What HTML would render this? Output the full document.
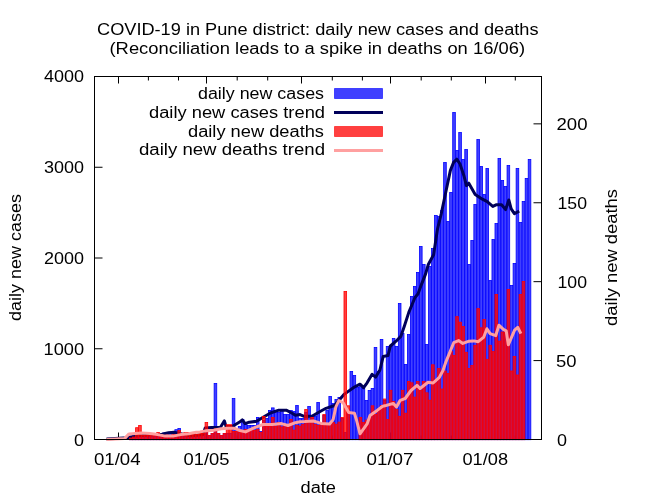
<!DOCTYPE html><html><head><meta charset="utf-8"><style>html,body{margin:0;padding:0;background:#fff;}svg{display:block;will-change:transform;}text{font-family:"Liberation Sans",sans-serif;font-size:16px;fill:#000;}</style></head><body>
<svg width="650" height="500" viewBox="0 0 650 500">
<rect x="0" y="0" width="650" height="500" fill="#fff"/>
<path d="M118.5 439.5V432.5 M118.5 76.5V83.5 M206.5 439.5V432.5 M206.5 76.5V83.5 M301.5 439.5V432.5 M301.5 76.5V83.5 M390.5 439.5V432.5 M390.5 76.5V83.5 M485.5 439.5V432.5 M485.5 76.5V83.5 M148.4 439.5V435.5 M148.4 76.5V80.5 M178.5 439.5V435.5 M178.5 76.5V80.5 M237.2 439.5V435.5 M237.2 76.5V80.5 M267.7 439.5V435.5 M267.7 76.5V80.5 M332.3 439.5V435.5 M332.3 76.5V80.5 M362.4 439.5V435.5 M362.4 76.5V80.5 M421.2 439.5V435.5 M421.2 76.5V80.5 M451.3 439.5V435.5 M451.3 76.5V80.5 M515.3 439.5V435.5 M515.3 76.5V80.5 M94.5 439.5H102.5 M94.5 348.75H102.5 M94.5 258H102.5 M94.5 167.25H102.5 M94.5 76.5H102.5 M541.5 439.5H533.5 M541.5 360.59H533.5 M541.5 281.67H533.5 M541.5 202.76H533.5 M541.5 123.85H533.5" stroke="#000" stroke-width="1" fill="none"/>
<g clip-path="url(#c)">
<defs><clipPath id="c"><rect x="94.5" y="76.5" width="447" height="366"/></clipPath></defs>
<g fill="#0000ff" fill-opacity="0.75" stroke="#0000ff" stroke-width="0.8"><rect x="129.57" y="437.5" width="2.62" height="2.2"/><rect x="132.59" y="435.5" width="2.62" height="4.2"/><rect x="135.61" y="436.5" width="2.62" height="3.2"/><rect x="138.63" y="435.5" width="2.62" height="4.2"/><rect x="141.65" y="436" width="2.62" height="3.7"/><rect x="144.67" y="434.5" width="2.62" height="5.2"/><rect x="147.69" y="435" width="2.62" height="4.7"/><rect x="150.71" y="435.5" width="2.62" height="4.2"/><rect x="153.73" y="434.5" width="2.62" height="5.2"/><rect x="156.75" y="434" width="2.62" height="5.7"/><rect x="159.77" y="434.5" width="2.62" height="5.2"/><rect x="162.79" y="433" width="2.62" height="6.7"/><rect x="165.81" y="433.5" width="2.62" height="6.2"/><rect x="168.83" y="432.5" width="2.62" height="7.2"/><rect x="171.85" y="432.5" width="2.62" height="7.2"/><rect x="174.87" y="429.7" width="2.62" height="10"/><rect x="177.89" y="428.5" width="2.62" height="11.2"/><rect x="180.91" y="433.5" width="2.62" height="6.2"/><rect x="183.93" y="434.5" width="2.62" height="5.2"/><rect x="186.95" y="435.5" width="2.62" height="4.2"/><rect x="189.97" y="434.5" width="2.62" height="5.2"/><rect x="192.99" y="435.5" width="2.62" height="4.2"/><rect x="196.01" y="436.5" width="2.62" height="3.2"/><rect x="199.03" y="435.5" width="2.62" height="4.2"/><rect x="202.05" y="434.5" width="2.62" height="5.2"/><rect x="205.07" y="431.5" width="2.62" height="8.2"/><rect x="208.09" y="435.5" width="2.62" height="4.2"/><rect x="211.11" y="433.5" width="2.62" height="6.2"/><rect x="214.13" y="383.5" width="2.62" height="56.2"/><rect x="217.15" y="433.5" width="2.62" height="6.2"/><rect x="220.17" y="435.5" width="2.62" height="4.2"/><rect x="223.19" y="433.5" width="2.62" height="6.2"/><rect x="226.21" y="433.5" width="2.62" height="6.2"/><rect x="229.23" y="433.5" width="2.62" height="6.2"/><rect x="232.25" y="398.5" width="2.62" height="41.2"/><rect x="235.27" y="430.5" width="2.62" height="9.2"/><rect x="238.29" y="426.5" width="2.62" height="13.2"/><rect x="241.31" y="419.5" width="2.62" height="20.2"/><rect x="244.33" y="424.5" width="2.62" height="15.2"/><rect x="247.35" y="425.5" width="2.62" height="14.2"/><rect x="250.37" y="425.5" width="2.62" height="14.2"/><rect x="253.39" y="425.5" width="2.62" height="14.2"/><rect x="256.41" y="417.5" width="2.62" height="22.2"/><rect x="259.43" y="431.5" width="2.62" height="8.2"/><rect x="262.45" y="420.5" width="2.62" height="19.2"/><rect x="265.47" y="418.5" width="2.62" height="21.2"/><rect x="268.49" y="410.5" width="2.62" height="29.2"/><rect x="271.51" y="407.9" width="2.62" height="31.8"/><rect x="274.53" y="410.5" width="2.62" height="29.2"/><rect x="277.55" y="412.5" width="2.62" height="27.2"/><rect x="280.57" y="410.5" width="2.62" height="29.2"/><rect x="283.59" y="414.5" width="2.62" height="25.2"/><rect x="286.61" y="414.5" width="2.62" height="25.2"/><rect x="289.63" y="410.5" width="2.62" height="29.2"/><rect x="292.65" y="411.5" width="2.62" height="28.2"/><rect x="295.67" y="405.5" width="2.62" height="34.2"/><rect x="298.69" y="418.5" width="2.62" height="21.2"/><rect x="301.71" y="418.5" width="2.62" height="21.2"/><rect x="304.73" y="412.5" width="2.62" height="27.2"/><rect x="307.75" y="406.5" width="2.62" height="33.2"/><rect x="310.77" y="418.5" width="2.62" height="21.2"/><rect x="313.79" y="416.5" width="2.62" height="23.2"/><rect x="316.81" y="402.5" width="2.62" height="37.2"/><rect x="319.83" y="424.5" width="2.62" height="15.2"/><rect x="322.85" y="415.5" width="2.62" height="24.2"/><rect x="325.87" y="410.5" width="2.62" height="29.2"/><rect x="328.89" y="396.5" width="2.62" height="43.2"/><rect x="331.91" y="403.5" width="2.62" height="36.2"/><rect x="334.93" y="399.5" width="2.62" height="40.2"/><rect x="337.95" y="397.5" width="2.62" height="42.2"/><rect x="340.97" y="418.5" width="2.62" height="21.2"/><rect x="343.99" y="432.5" width="2.62" height="7.2"/><rect x="347.01" y="412.5" width="2.62" height="27.2"/><rect x="350.03" y="371.5" width="2.62" height="68.2"/><rect x="353.05" y="375.5" width="2.62" height="64.2"/><rect x="356.07" y="387.5" width="2.62" height="52.2"/><rect x="359.09" y="385.5" width="2.62" height="54.2"/><rect x="362.11" y="388.5" width="2.62" height="51.2"/><rect x="365.13" y="400.5" width="2.62" height="39.2"/><rect x="368.15" y="390.5" width="2.62" height="49.2"/><rect x="371.17" y="388.5" width="2.62" height="51.2"/><rect x="374.19" y="347.5" width="2.62" height="92.2"/><rect x="377.21" y="371.5" width="2.62" height="68.2"/><rect x="380.23" y="339.5" width="2.62" height="100.2"/><rect x="383.25" y="400.5" width="2.62" height="39.2"/><rect x="386.27" y="346.5" width="2.62" height="93.2"/><rect x="389.29" y="345.5" width="2.62" height="94.2"/><rect x="392.31" y="338.5" width="2.62" height="101.2"/><rect x="395.33" y="346.5" width="2.62" height="93.2"/><rect x="398.35" y="303.5" width="2.62" height="136.2"/><rect x="401.37" y="333.5" width="2.62" height="106.2"/><rect x="404.39" y="364.5" width="2.62" height="75.2"/><rect x="407.41" y="334.5" width="2.62" height="105.2"/><rect x="410.43" y="296.5" width="2.62" height="143.2"/><rect x="413.45" y="286.5" width="2.62" height="153.2"/><rect x="416.47" y="272.5" width="2.62" height="167.2"/><rect x="419.49" y="246.5" width="2.62" height="193.2"/><rect x="422.51" y="264.5" width="2.62" height="175.2"/><rect x="425.53" y="344.5" width="2.62" height="95.2"/><rect x="428.55" y="266.5" width="2.62" height="173.2"/><rect x="431.57" y="248.5" width="2.62" height="191.2"/><rect x="434.59" y="215.5" width="2.62" height="224.2"/><rect x="437.61" y="216.5" width="2.62" height="223.2"/><rect x="440.63" y="210.5" width="2.62" height="229.2"/><rect x="443.65" y="162.5" width="2.62" height="277.2"/><rect x="446.67" y="221.5" width="2.62" height="218.2"/><rect x="449.69" y="192.5" width="2.62" height="247.2"/><rect x="452.71" y="112.5" width="2.62" height="327.2"/><rect x="455.73" y="150.5" width="2.62" height="289.2"/><rect x="458.75" y="132.5" width="2.62" height="307.2"/><rect x="461.77" y="159.5" width="2.62" height="280.2"/><rect x="464.79" y="149.5" width="2.62" height="290.2"/><rect x="467.81" y="264.5" width="2.62" height="175.2"/><rect x="470.83" y="240.5" width="2.62" height="199.2"/><rect x="473.85" y="204.5" width="2.62" height="235.2"/><rect x="476.87" y="139.5" width="2.62" height="300.2"/><rect x="479.89" y="166.5" width="2.62" height="273.2"/><rect x="482.91" y="194.5" width="2.62" height="245.2"/><rect x="485.93" y="168.5" width="2.62" height="271.2"/><rect x="488.95" y="280.5" width="2.62" height="159.2"/><rect x="491.97" y="239.5" width="2.62" height="200.2"/><rect x="494.99" y="223.5" width="2.62" height="216.2"/><rect x="498.01" y="158.5" width="2.62" height="281.2"/><rect x="501.03" y="180.5" width="2.62" height="259.2"/><rect x="504.05" y="186.5" width="2.62" height="253.2"/><rect x="507.07" y="165.5" width="2.62" height="274.2"/><rect x="510.09" y="285.5" width="2.62" height="154.2"/><rect x="513.11" y="263.5" width="2.62" height="176.2"/><rect x="516.13" y="168.5" width="2.62" height="271.2"/><rect x="519.15" y="222.5" width="2.62" height="217.2"/><rect x="522.17" y="201.5" width="2.62" height="238.2"/><rect x="525.19" y="178.5" width="2.62" height="261.2"/><rect x="528.21" y="159.5" width="2.62" height="280.2"/></g>
<polyline fill="none" stroke="#00005a" stroke-width="3" stroke-linejoin="round" stroke-linecap="butt" points="106.5,439 127.7,437.8 130.5,436.9 140.6,435.5 150,435 162,434.2 168.5,432.8 174,432.3 180.5,433.7 190,435.7 196.6,435.2 203.1,434.4 205.2,427.9 211.3,427.5 220.3,427.5 224.4,420.9 226.1,426.6 232.6,426.2 240,421.8 242.3,419.9 245.1,423.6 249.2,422.2 256.6,421.3 263.1,417.2 270.5,413 278.8,410.2 286.2,410.2 291.7,413 295.4,415.3 300,414.6 304.8,416.6 312.3,416 321,411 326,408.3 334.5,405.5 344.4,394.1 354.4,387 360,384.2 363.6,387.7 367.1,382.8 372.1,374.3 375.6,377.1 379.9,370 383.2,356.4 388,355.6 390.4,346 396,341.2 400.8,336.4 404.4,326 408.8,312.4 415,297.5 418.1,293.8 421.2,285.1 425.6,273.9 428.3,264.5 433.6,254.7 437.5,229 441.2,214 445.6,193 450.4,170.4 453.6,162.4 456.8,159.2 460,164 464,176 466.4,185.6 468.8,183.2 475.2,194.4 482.4,199.2 487.2,201.6 492.8,206.4 496,204.8 501.6,204.8 505.6,209.6 508.8,200 511.2,208.8 514.4,213.6 519.2,211.2"/>
<g fill="#ff0000" fill-opacity="0.75" stroke="#ff0000" stroke-width="0.8"><rect x="129.57" y="438" width="2.62" height="1.7"/><rect x="132.59" y="437" width="2.62" height="2.7"/><rect x="135.61" y="427.7" width="2.62" height="12"/><rect x="138.63" y="425.5" width="2.62" height="14.2"/><rect x="141.65" y="435.5" width="2.62" height="4.2"/><rect x="144.67" y="435" width="2.62" height="4.7"/><rect x="147.69" y="435.5" width="2.62" height="4.2"/><rect x="150.71" y="434.5" width="2.62" height="5.2"/><rect x="153.73" y="435" width="2.62" height="4.7"/><rect x="156.75" y="432.5" width="2.62" height="7.2"/><rect x="159.77" y="434.5" width="2.62" height="5.2"/><rect x="162.79" y="435.5" width="2.62" height="4.2"/><rect x="165.81" y="435" width="2.62" height="4.7"/><rect x="168.83" y="435.5" width="2.62" height="4.2"/><rect x="171.85" y="434.5" width="2.62" height="5.2"/><rect x="174.87" y="434.5" width="2.62" height="5.2"/><rect x="177.89" y="430.5" width="2.62" height="9.2"/><rect x="180.91" y="434.5" width="2.62" height="5.2"/><rect x="183.93" y="432.5" width="2.62" height="7.2"/><rect x="186.95" y="432.5" width="2.62" height="7.2"/><rect x="189.97" y="434.5" width="2.62" height="5.2"/><rect x="192.99" y="433.5" width="2.62" height="6.2"/><rect x="196.01" y="434.5" width="2.62" height="5.2"/><rect x="199.03" y="433.5" width="2.62" height="6.2"/><rect x="202.05" y="433.5" width="2.62" height="6.2"/><rect x="205.07" y="422.5" width="2.62" height="17.2"/><rect x="208.09" y="435.5" width="2.62" height="4.2"/><rect x="211.11" y="433.5" width="2.62" height="6.2"/><rect x="214.13" y="428.8" width="2.62" height="10.9"/><rect x="217.15" y="433.5" width="2.62" height="6.2"/><rect x="220.17" y="435.5" width="2.62" height="4.2"/><rect x="223.19" y="433.5" width="2.62" height="6.2"/><rect x="226.21" y="424.7" width="2.62" height="15"/><rect x="229.23" y="424.7" width="2.62" height="15"/><rect x="232.25" y="431.5" width="2.62" height="8.2"/><rect x="235.27" y="431.5" width="2.62" height="8.2"/><rect x="238.29" y="432.5" width="2.62" height="7.2"/><rect x="241.31" y="430.5" width="2.62" height="9.2"/><rect x="244.33" y="429.5" width="2.62" height="10.2"/><rect x="247.35" y="430.5" width="2.62" height="9.2"/><rect x="250.37" y="429.5" width="2.62" height="10.2"/><rect x="253.39" y="430.5" width="2.62" height="9.2"/><rect x="256.41" y="429.5" width="2.62" height="10.2"/><rect x="259.43" y="432.5" width="2.62" height="7.2"/><rect x="262.45" y="416.5" width="2.62" height="23.2"/><rect x="265.47" y="426.5" width="2.62" height="13.2"/><rect x="268.49" y="426.5" width="2.62" height="13.2"/><rect x="271.51" y="417.5" width="2.62" height="22.2"/><rect x="274.53" y="426.5" width="2.62" height="13.2"/><rect x="277.55" y="422.5" width="2.62" height="17.2"/><rect x="280.57" y="427" width="2.62" height="12.7"/><rect x="283.59" y="425.5" width="2.62" height="14.2"/><rect x="286.61" y="427.5" width="2.62" height="12.2"/><rect x="289.63" y="419.5" width="2.62" height="20.2"/><rect x="292.65" y="430.1" width="2.62" height="9.6"/><rect x="295.67" y="425.5" width="2.62" height="14.2"/><rect x="298.69" y="426.2" width="2.62" height="13.5"/><rect x="301.71" y="424.5" width="2.62" height="15.2"/><rect x="304.73" y="409.5" width="2.62" height="30.2"/><rect x="307.75" y="422.5" width="2.62" height="17.2"/><rect x="310.77" y="417.5" width="2.62" height="22.2"/><rect x="313.79" y="424.5" width="2.62" height="15.2"/><rect x="316.81" y="425.5" width="2.62" height="14.2"/><rect x="319.83" y="424.5" width="2.62" height="15.2"/><rect x="322.85" y="414.5" width="2.62" height="25.2"/><rect x="325.87" y="423.5" width="2.62" height="16.2"/><rect x="328.89" y="424.5" width="2.62" height="15.2"/><rect x="331.91" y="422.5" width="2.62" height="17.2"/><rect x="334.93" y="424.2" width="2.62" height="15.5"/><rect x="337.95" y="422.1" width="2.62" height="17.6"/><rect x="340.97" y="417.5" width="2.62" height="22.2"/><rect x="343.99" y="291.5" width="2.62" height="148.2"/><rect x="347.01" y="405.8" width="2.62" height="33.9"/><rect x="359.09" y="417.5" width="2.62" height="22.2"/><rect x="362.11" y="422.5" width="2.62" height="17.2"/><rect x="365.13" y="420.1" width="2.62" height="19.6"/><rect x="368.15" y="418.1" width="2.62" height="21.6"/><rect x="371.17" y="405.8" width="2.62" height="33.9"/><rect x="374.19" y="414.5" width="2.62" height="25.2"/><rect x="377.21" y="410.5" width="2.62" height="29.2"/><rect x="380.23" y="405.5" width="2.62" height="34.2"/><rect x="383.25" y="399" width="2.62" height="40.7"/><rect x="386.27" y="419.5" width="2.62" height="20.2"/><rect x="389.29" y="390.3" width="2.62" height="49.4"/><rect x="392.31" y="401.5" width="2.62" height="38.2"/><rect x="395.33" y="409.5" width="2.62" height="30.2"/><rect x="398.35" y="416.3" width="2.62" height="23.4"/><rect x="401.37" y="390.3" width="2.62" height="49.4"/><rect x="404.39" y="413.2" width="2.62" height="26.5"/><rect x="407.41" y="381.5" width="2.62" height="58.2"/><rect x="410.43" y="382.8" width="2.62" height="56.9"/><rect x="413.45" y="397.1" width="2.62" height="42.6"/><rect x="416.47" y="381.5" width="2.62" height="58.2"/><rect x="419.49" y="390.3" width="2.62" height="49.4"/><rect x="422.51" y="381.5" width="2.62" height="58.2"/><rect x="425.53" y="392.8" width="2.62" height="46.9"/><rect x="428.55" y="400.2" width="2.62" height="39.5"/><rect x="431.57" y="364.8" width="2.62" height="74.9"/><rect x="434.59" y="382.8" width="2.62" height="56.9"/><rect x="437.61" y="368.5" width="2.62" height="71.2"/><rect x="440.63" y="389" width="2.62" height="50.7"/><rect x="443.65" y="371" width="2.62" height="68.7"/><rect x="446.67" y="373.5" width="2.62" height="66.2"/><rect x="449.69" y="351.5" width="2.62" height="88.2"/><rect x="452.71" y="355.5" width="2.62" height="84.2"/><rect x="455.73" y="316.6" width="2.62" height="123.1"/><rect x="458.75" y="322.2" width="2.62" height="117.5"/><rect x="461.77" y="326.4" width="2.62" height="113.3"/><rect x="464.79" y="352.3" width="2.62" height="87.4"/><rect x="467.81" y="368.5" width="2.62" height="71.2"/><rect x="470.83" y="365.5" width="2.62" height="74.2"/><rect x="473.85" y="345.3" width="2.62" height="94.4"/><rect x="476.87" y="308.6" width="2.62" height="131.1"/><rect x="479.89" y="327.8" width="2.62" height="111.9"/><rect x="482.91" y="319.4" width="2.62" height="120.3"/><rect x="485.93" y="359.3" width="2.62" height="80.4"/><rect x="488.95" y="345.3" width="2.62" height="94.4"/><rect x="491.97" y="351.6" width="2.62" height="88.1"/><rect x="494.99" y="294.4" width="2.62" height="145.3"/><rect x="498.01" y="341.1" width="2.62" height="98.6"/><rect x="501.03" y="332" width="2.62" height="107.7"/><rect x="504.05" y="332" width="2.62" height="107.7"/><rect x="507.07" y="289.5" width="2.62" height="150.2"/><rect x="510.09" y="371" width="2.62" height="68.7"/><rect x="513.11" y="356.5" width="2.62" height="83.2"/><rect x="516.13" y="375" width="2.62" height="64.7"/><rect x="519.15" y="294.4" width="2.62" height="145.3"/><rect x="522.17" y="281.5" width="2.62" height="158.2"/></g>
<polyline fill="none" stroke="#ffa0a0" stroke-width="3" stroke-linejoin="round" stroke-linecap="butt" points="106.5,439.5 124.5,438.6 129,433.9 141.5,432.9 150,433.6 157.7,434.6 165.4,436.1 173,436.1 180.8,434.6 188.5,433.8 196.2,432.3 200,431.9 206.4,430.7 213.8,430.3 221.1,428.7 227.7,428.3 234.3,428.3 240,430.5 245.5,431.9 253.9,427.8 263.1,424.5 272.3,424.5 281.5,423.6 288,425.5 295.4,422.7 300,421.8 304.8,421.6 313.5,421 321,423.4 329.6,424 333.1,419.6 335.9,406.9 338.8,400.5 343,402.6 348.7,412.6 354.4,413.3 356.5,420 360,433.8 367.1,423.9 370,415.4 377.1,410.4 382.7,406.2 386,405.5 393.4,403.4 396.5,407 400.2,400.3 405.2,398.5 411,390.5 417,385.4 420,388.5 428.1,382.3 433.1,383 439.3,377.4 443,370.5 446,361.6 449.5,353.2 453.7,342.7 458.6,340.6 462.8,343.4 468.4,341.3 474,340.9 478.2,341.7 483.8,337.1 486.9,328.7 490.1,333.6 495.7,335.7 498.9,325.2 503.4,329.4 506.2,330.8 508.3,344.8 514.6,330.1 517.7,327.3 520.9,333.6"/>
</g>
<rect x="94.5" y="76.5" width="447" height="363" fill="none" stroke="#000" stroke-width="1"/>
<text x="97" y="34.7" textLength="441.5" lengthAdjust="spacingAndGlyphs">COVID-19 in Pune district: daily new cases and deaths</text>
<text x="109.5" y="53.8" textLength="415.5" lengthAdjust="spacingAndGlyphs">(Reconciliation leads to a spike in deaths on 16/06)</text>
<text x="44" y="81.8" textLength="40" lengthAdjust="spacingAndGlyphs">4000</text>
<text x="44" y="172.9" textLength="40" lengthAdjust="spacingAndGlyphs">3000</text>
<text x="44" y="263.8" textLength="40" lengthAdjust="spacingAndGlyphs">2000</text>
<text x="43.5" y="355.2" textLength="40.5" lengthAdjust="spacingAndGlyphs">1000</text>
<text x="74" y="446.3" textLength="10" lengthAdjust="spacingAndGlyphs">0</text>
<text x="556.5" y="130" textLength="31" lengthAdjust="spacingAndGlyphs">200</text>
<text x="557.5" y="208.8" textLength="29.5" lengthAdjust="spacingAndGlyphs">150</text>
<text x="557.5" y="287.8" textLength="29.5" lengthAdjust="spacingAndGlyphs">100</text>
<text x="556" y="366.8" textLength="20.5" lengthAdjust="spacingAndGlyphs">50</text>
<text x="557" y="446" textLength="10" lengthAdjust="spacingAndGlyphs">0</text>
<text x="94" y="464.8" textLength="46.5" lengthAdjust="spacingAndGlyphs">01/04</text>
<text x="183.5" y="464.8" textLength="46" lengthAdjust="spacingAndGlyphs">01/05</text>
<text x="278" y="464.8" textLength="47" lengthAdjust="spacingAndGlyphs">01/06</text>
<text x="366.5" y="464.8" textLength="47" lengthAdjust="spacingAndGlyphs">01/07</text>
<text x="462.5" y="464.8" textLength="45.5" lengthAdjust="spacingAndGlyphs">01/08</text>
<text x="300.5" y="492.6" textLength="35.5" lengthAdjust="spacingAndGlyphs">date</text>
<text x="198" y="99" textLength="126" lengthAdjust="spacingAndGlyphs">daily new cases</text>
<text x="149" y="118" textLength="176" lengthAdjust="spacingAndGlyphs">daily new cases trend</text>
<text x="188" y="136.5" textLength="136" lengthAdjust="spacingAndGlyphs">daily new deaths</text>
<text x="139" y="155.2" textLength="186" lengthAdjust="spacingAndGlyphs">daily new deaths trend</text>
<text transform="translate(21.2,500) rotate(-90)" x="179" y="0" textLength="127" lengthAdjust="spacingAndGlyphs">daily new cases</text>
<text transform="translate(616.8,500) rotate(-90)" x="174" y="0" textLength="137" lengthAdjust="spacingAndGlyphs">daily new deaths</text>
<rect x="334.5" y="88.5" width="48" height="10" fill="#0000ff" fill-opacity="0.75" stroke="#0000ff" stroke-width="0.6" stroke-linejoin="round"/>
<path d="M334 112.5H383" stroke="#00005a" stroke-width="3"/>
<rect x="334.5" y="126.5" width="48" height="10" fill="#ff0000" fill-opacity="0.75" stroke="#ff0000" stroke-width="0.6" stroke-linejoin="round"/>
<path d="M334 150.5H383" stroke="#ffa0a0" stroke-width="3"/>
</svg></body></html>
